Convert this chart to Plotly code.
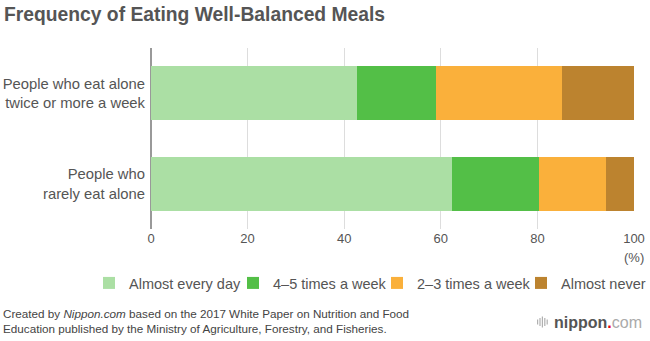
import plotly.graph_objects as go

# Share of respondents (%) by how often they eat well-balanced meals
groups = ["People who eat alone<br>twice or more a week", "People who<br>rarely eat alone"]
frequencies = ["Almost every day", "4–5 times a week", "2–3 times a week", "Almost never"]
shares = {
    "Almost every day": [42.6, 62.3],
    "4–5 times a week": [16.4, 18.0],
    "2–3 times a week": [26.0, 13.9],
    "Almost never": [15.0, 5.8],
}
colors = ["#abdfa4", "#53bf47", "#fab03b", "#bc832f"]
x_ticks = [0, 20, 40, 60, 80, 100]

FONT = "Liberation Sans, Arial, Helvetica, sans-serif"
GRAY = "#555555"
PLOT_W = 650 - 151 - 16
PLOT_H = 341 - 48 - 112

fig = go.Figure()
for name, color in zip(frequencies, colors):
    fig.add_trace(go.Bar(
        y=groups, x=shares[name], name=name, orientation="h",
        marker=dict(color=color, line=dict(width=0)),
        hoverinfo="x+name",
    ))

fig.update_layout(
    width=650, height=341,
    margin=dict(l=151, r=16, t=48, b=112, autoexpand=False),
    barmode="stack", bargap=0.4,
    paper_bgcolor="white", plot_bgcolor="white",
    font=dict(family=FONT, size=13, color=GRAY),
    showlegend=True,
    legend=dict(
        orientation="h", x=(89 - 151) / PLOT_W, xanchor="left",
        y=(229 - 283) / PLOT_H, yanchor="middle",
        font=dict(size=14.5, color=GRAY), traceorder="normal",
        itemwidth=30, entrywidth=99, entrywidthmode="pixels",
    ),
    xaxis=dict(
        range=[0, 100], tickvals=x_ticks, showgrid=True, gridcolor="#dddddd",
        gridwidth=1, zeroline=True, zerolinecolor="#999999", zerolinewidth=1.5,
        ticks="", tickfont=dict(size=13, color=GRAY), fixedrange=True,
    ),
    yaxis=dict(
        categoryorder="array", categoryarray=groups, autorange="reversed",
        showgrid=False, ticks="", ticklabelstandoff=5,
        tickfont=dict(size=14.8, color=GRAY), fixedrange=True,
    ),
)

fig.add_annotation(
    text="<b>Frequency of Eating Well-Balanced Meals</b>",
    xref="paper", yref="paper", x=(2 - 151) / PLOT_W, y=1.0, yshift=34,
    xanchor="left", yanchor="middle", showarrow=False,
    font=dict(size=19.3, color=GRAY),
)
fig.add_annotation(
    text="(%)", xref="x", yref="paper", x=100, y=0, yshift=-28,
    xanchor="center", yanchor="middle", showarrow=False,
    font=dict(size=13, color=GRAY),
)
fig.add_annotation(
    text="Created by <i>Nippon.com</i> based on the 2017 White Paper on Nutrition and Food"
         "<br>Education published by the Ministry of Agriculture, Forestry, and Fisheries.",
    xref="paper", yref="paper", x=(1 - 151) / PLOT_W, y=0, yshift=-92,
    xanchor="left", yanchor="middle", align="left", showarrow=False,
    font=dict(size=11.7, color="#444444"),
)
fig.add_annotation(
    text="<b>nippon</b><span style='color:#e60012'><b>.</b></span><span style='color:#aaaaaa'>com</span>",
    xref="paper", yref="paper", x=1.0, xshift=10, y=0, yshift=-93,
    xanchor="right", yanchor="middle", showarrow=False,
    font=dict(size=16, color="#555555"),
)
# small bar icon next to the wordmark
for i, h in enumerate([5, 8, 11, 8, 5]):
    fig.add_shape(
        type="rect", xref="paper", yref="paper",
        x0=(537 + i * 2.4 - 151) / PLOT_W, x1=(538.2 + i * 2.4 - 151) / PLOT_W,
        y0=(229 - 322 - h / 2) / PLOT_H, y1=(229 - 322 + h / 2) / PLOT_H,
        line=dict(width=0), fillcolor="#b0b0b0",
    )

fig.write_html("out.html")
